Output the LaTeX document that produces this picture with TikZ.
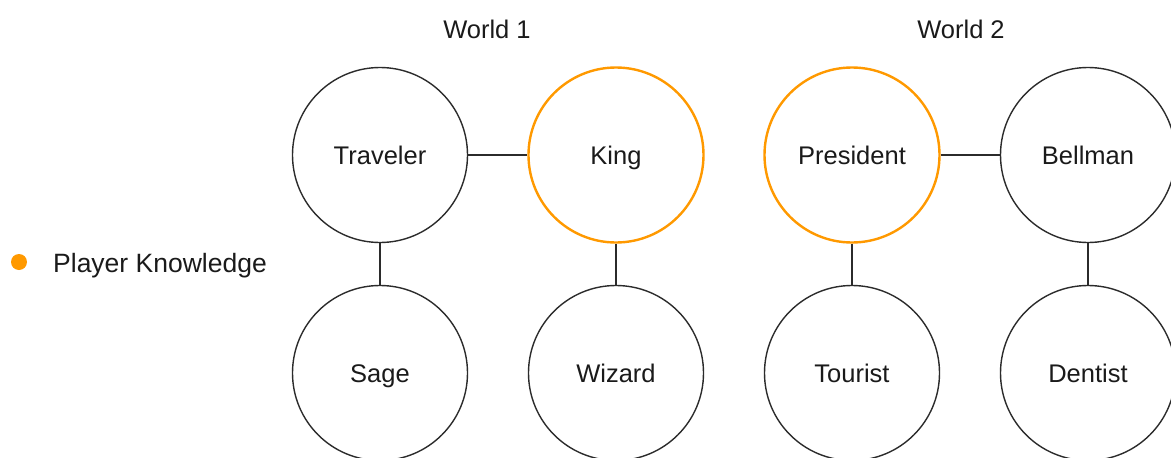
\documentclass[tikz,border=0pt]{standalone}
\usepackage{fontspec}
\setmainfont{Liberation Sans}
\definecolor{draworange}{HTML}{FF9900}
\definecolor{ink}{HTML}{1A1A1A}
\definecolor{edge}{HTML}{2B2B2B}
\begin{document}
\begin{tikzpicture}[x=1pt,y=-1pt,
  lbl/.style={font=\fontsize{25.5}{30}\selectfont, text=ink, inner sep=0pt, text height=22pt, text depth=4pt},
  person/.style={circle, draw=edge, line width=1.4pt, minimum size=175pt, inner sep=0pt, font=\fontsize{25.5}{30}\selectfont, text=ink, text height=22pt, text depth=4pt},
  known/.style={person, draw=draworange, line width=2.4pt},
  link/.style={draw=edge, line width=1.4pt}]
\useasboundingbox (0,0) rectangle (1171,458);
% titles
\node[lbl] (w1) at (487,29) {World 1};
\node[lbl] (w2) at (961,29) {World 2};
% legend
\node[circle, fill=draworange, minimum size=16pt, inner sep=0pt] (dot) at (19,262) {};
\node[lbl, anchor=west, font=\fontsize{26.5}{30}\selectfont] (legend) at (53,263) {Player Knowledge};
% nodes
\node[person] (traveler) at (380,155) {Traveler};
\node[known] (king) at (616,155) {King};
\node[known] (president) at (852,155) {President};
\node[person] (bellman) at (1088,155) {Bellman};
\node[person] (sage) at (380,373) {Sage};
\node[person] (wizard) at (616,373) {Wizard};
\node[person] (tourist) at (852,373) {Tourist};
\node[person] (dentist) at (1088,373) {Dentist};
% connectors
\draw[link] (traveler) -- (king);
\draw[link] (president) -- (bellman);
\draw[link] (traveler) -- (sage);
\draw[link] (king) -- (wizard);
\draw[link] (president) -- (tourist);
\draw[link] (bellman) -- (dentist);
\end{tikzpicture}
\end{document}
